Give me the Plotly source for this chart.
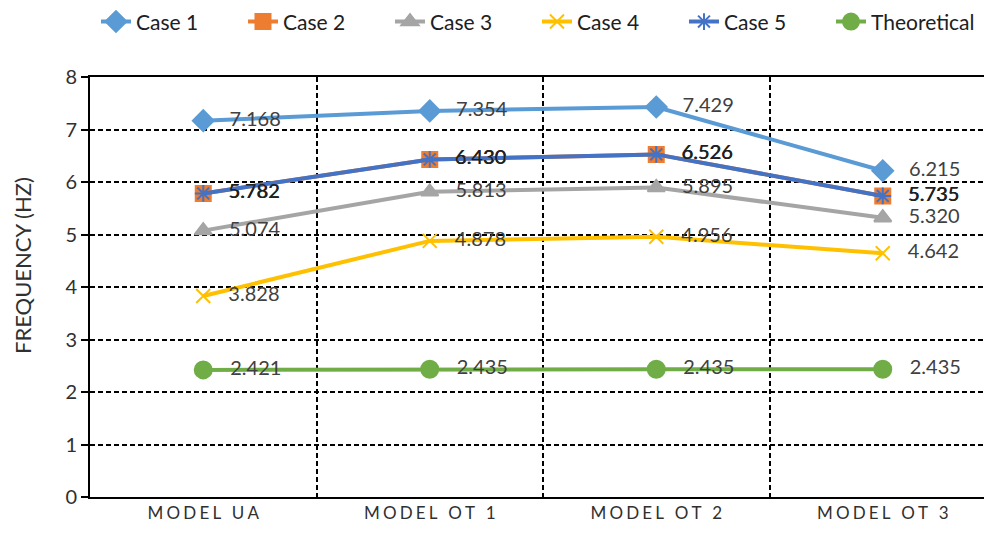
import plotly.graph_objects as go

# Models on the x axis (letter-spaced labels)
models = ["MODEL UA", "MODEL OT 1", "MODEL OT 2", "MODEL OT 3"]

case1 = [7.168, 7.354, 7.429, 6.215]
case2 = [5.782, 6.430, 6.526, 5.735]
case3 = [5.074, 5.813, 5.895, 5.320]
case4 = [3.828, 4.878, 4.956, 4.642]
case5 = [5.782, 6.430, 6.526, 5.735]
theoretical = [2.421, 2.435, 2.435, 2.435]

def spaced(label):
    words = label.split(" ")
    return "\u2002\u2009".join("\u2009\u200a".join(w) for w in words)

tick_text = [spaced(m) for m in models]

series = [
    ("Case 1", case1, "#5B9BD5", "diamond", 16, "#404040"),
    ("Case 2", case2, "#ED7D31", "square", 15, "#202020"),
    ("Case 3", case3, "#A5A5A5", "triangle-up", 15, "#404040"),
    ("Case 4", case4, "#FFC000", "x-thin-open", 14, "#404040"),
    ("Case 5", case5, "#4472C4", "asterisk-open", 14, "#202020"),
    ("Theoretical", theoretical, "#70AD47", "circle", 17, "#404040"),
]

FONT = "Lato, sans-serif"

fig = go.Figure()
for name, vals, color, symbol, size, tcolor in series:
    fig.add_trace(go.Scatter(
        x=models, y=vals, name=name,
        mode="lines+markers+text",
        line=dict(color=color, width=4),
        marker=dict(symbol=symbol, size=size, color=color,
                    line=dict(color=color, width=2)),
        text=[f"{v:.3f}" for v in vals],
        texttemplate="   %{text}",
        textposition="middle right",
        textfont=dict(family=FONT, size=20, color=tcolor),
        cliponaxis=False,
    ))

# Rotated axis title, placed as an annotation left of the tick labels
fig.add_annotation(
    text="FREQUENCY (HZ)", textangle=-90,
    xref="paper", yref="paper", x=-0.076, y=0.55,
    xanchor="center", yanchor="middle", showarrow=False,
    font=dict(family=FONT, size=22, color="#303030"),
)

fig.update_layout(
    width=984, height=539,
    margin=dict(l=90, r=0, t=77, b=42),
    plot_bgcolor="white", paper_bgcolor="white",
    font=dict(family=FONT, color="#404040"),
    legend=dict(orientation="h", x=0.0067, xanchor="left", y=1.18, yanchor="top",
                font=dict(size=21, color="#202020"),
                entrywidth=102, entrywidthmode="pixels",
                tracegroupgap=0),
    xaxis=dict(
        type="category", range=[-0.5, 3.447],
        tickmode="array", tickvals=models, ticktext=tick_text,
        tickson="boundaries", ticks="",
        showgrid=True, gridcolor="black", gridwidth=1.5, griddash="5px,3px",
        showline=True, linecolor="black", linewidth=2, mirror=True,
        tickfont=dict(size=17, color="#303030"),
        zeroline=False,
    ),
    yaxis=dict(
        range=[0, 8], dtick=1,
        showgrid=True, gridcolor="black", gridwidth=1.5, griddash="5px,3px",
        showline=True, linecolor="black", linewidth=2,
        ticks="outside", ticklen=7, tickwidth=1.5, tickcolor="black",
        tickfont=dict(size=20, color="#303030"),
        zeroline=False,
    ),
)

fig.write_html("out.html")
